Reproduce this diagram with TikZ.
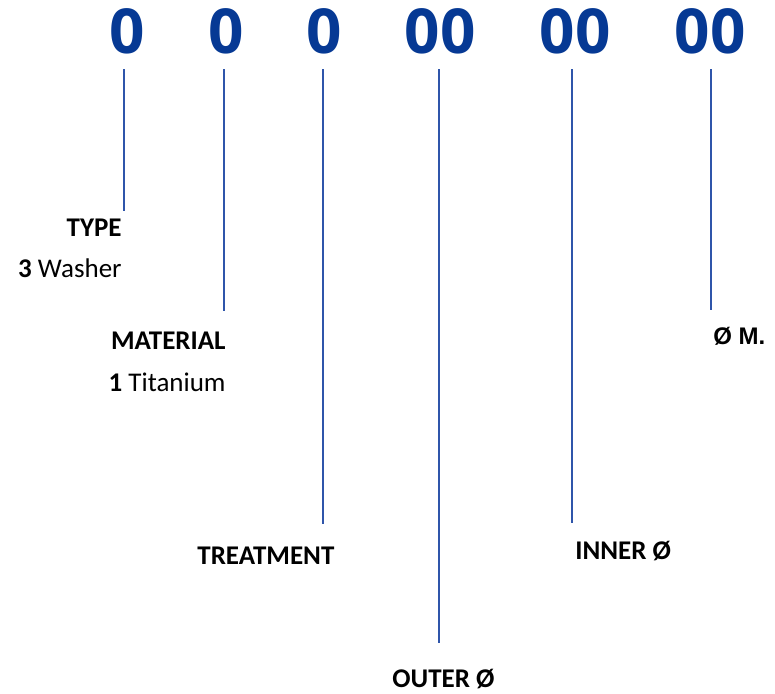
\documentclass[tikz,border=0pt]{standalone}
\usepackage{fontspec}
\setmainfont{Carlito}
\newfontfamily\codefont{Open Sans}
\newfontfamily\arialfont{Liberation Sans}
\usepackage{xcolor}
\definecolor{codeblue}{RGB}{6,57,148}
\definecolor{leadblue}{RGB}{47,85,170}
\tikzset{
  digit/.style={text=codeblue, font=\codefont\bfseries\fontsize{31}{36}\selectfont, inner sep=0pt, anchor=base},
  lead/.style={leadblue, line width=0.75pt},
  lbl/.style={font=\fontsize{13.5}{16}\selectfont, inner sep=0pt}
}

\begin{document}
\begin{tikzpicture}[x=0.5pt,y=-0.5pt]
\useasboundingbox (0,0) rectangle (775,693);
% code digits
\node[digit] (d1) at (127,53) {0};
\node[digit] (d2) at (226,53) {0};
\node[digit] (d3) at (324,53) {0};
\node[digit] (d4) at (440,53) {00};
\node[digit] (d5) at (575,53) {00};
\node[digit] (d6) at (710,53) {00};
% line ends
\coordinate (e1) at (124,211);
\coordinate (e2) at (224,311);
\coordinate (e3) at (323,524);
\coordinate (e4) at (439,643);
\coordinate (e5) at (572,523);
\coordinate (e6) at (711,310);
\draw[lead] (d1.south -| e1) ++(0,15) -- (e1);
\draw[lead] (d2.south -| e2) ++(0,15) -- (e2);
\draw[lead] (d3.south -| e3) ++(0,15) -- (e3);
\draw[lead] (d4.south -| e4) ++(0,15) -- (e4);
\draw[lead] (d5.south -| e5) ++(0,15) -- (e5);
\draw[lead] (d6.south -| e6) ++(0,15) -- (e6);
% labels
\node[lbl, anchor=base east] (type) at (122,236) {\bfseries TYPE};
\node[lbl, anchor=base east] (washer) at (122,277) {{\bfseries 3} Washer};
\node[lbl, anchor=base east] (mat) at (226,349) {\bfseries MATERIAL};
\node[lbl, anchor=base east] (titan) at (226,391) {{\bfseries 1} Titanium};
\node[lbl, anchor=base west] (treat) at (197,564) {\bfseries TREATMENT};
\node[lbl, anchor=base west] (outer) at (392,687) {\bfseries OUTER Ø};
\node[lbl, anchor=base west] (inner) at (575,559) {\bfseries INNER Ø};
\node[lbl, anchor=base west, font=\arialfont\bfseries\fontsize{12}{14}\selectfont] (mdia) at (713,344) {Ø M.};
\end{tikzpicture}
\end{document}
